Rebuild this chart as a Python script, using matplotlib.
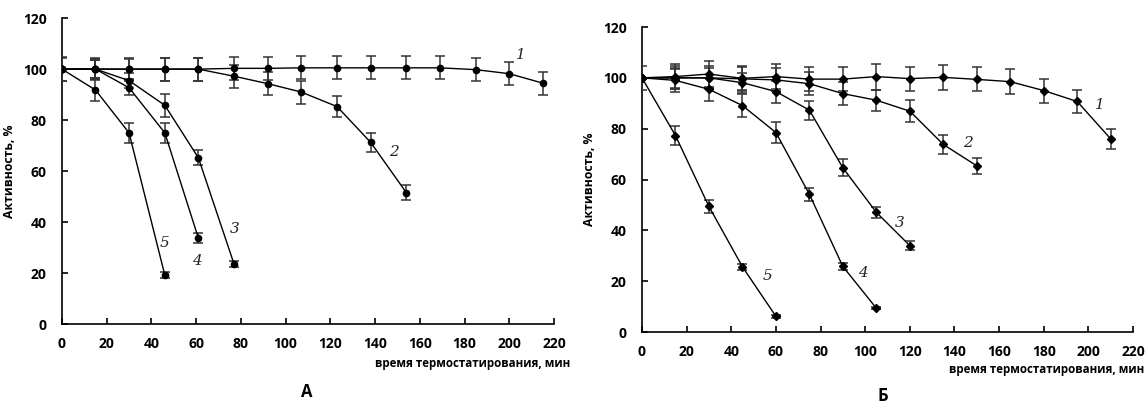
import matplotlib
matplotlib.use("Agg")
import matplotlib.pyplot as plt

# ---------- Panel A data ----------
a1_x = [0, 15, 30, 46, 61, 77, 92, 107, 123, 138, 154, 169, 185, 200, 215]
a1_y = [100, 100, 100, 100, 100, 100.3, 100.3, 100.5, 100.5, 100.5, 100.5, 100.5, 99.8, 98.2, 94.5]
a1_e = [4.6, 4.3, 4.5, 4.5, 4.5, 4.5, 4.5, 4.5, 4.5, 4.5, 4.5, 4.5, 4.5, 4.5, 4.5]

a2_x = [0, 15, 30, 46, 61, 77, 92, 107, 123, 138, 154]
a2_y = [100, 100, 100, 100, 100, 97.2, 94.3, 91, 85.3, 71.3, 51.5]
a2_e = [4.5, 4.0, 4.0, 4.5, 4.5, 4.5, 4.5, 4.5, 4.0, 3.7, 2.9]

a3_x = [0, 15, 30, 46, 61, 77]
a3_y = [100, 100, 95.5, 85.8, 65.2, 23.4]
a3_e = [0, 3.5, 3.0, 4.5, 3.0, 1.2]

a4_x = [0, 15, 30, 46, 61]
a4_y = [100, 100, 92.7, 75, 33.7]
a4_e = [0, 3.5, 3.0, 3.8, 2.0]

a5_x = [0, 15, 30, 46]
a5_y = [100, 91.8, 75, 19.2]
a5_e = [0, 4.2, 4.0, 1.3]

# ---------- Panel B data ----------
b1_x = [0, 15, 30, 45, 60, 75, 90, 105, 120, 135, 150, 165, 180, 195, 210]
b1_y = [100, 100.5, 101.5, 99.8, 100.5, 99.5, 99.5, 100.5, 99.7, 100.2, 99.4, 98.5, 95, 90.7, 76]
b1_e = [4.7, 5.0, 5.0, 4.8, 5.0, 4.8, 4.8, 5.1, 4.7, 5.0, 4.7, 4.9, 4.7, 4.6, 3.9]

b2_x = [0, 15, 30, 45, 60, 75, 90, 105, 120, 135, 150]
b2_y = [100, 100, 100, 99.6, 99.2, 97.7, 93.8, 91.2, 86.9, 73.8, 65.4]
b2_e = [0, 4.5, 4.5, 4.5, 4.5, 4.5, 4.5, 4.2, 4.2, 3.7, 3.2]

b3_x = [0, 15, 30, 45, 60, 75, 90, 105, 120]
b3_y = [100, 100, 100, 98.1, 94.6, 87.3, 64.6, 47.1, 34.0]
b3_e = [0, 4.0, 4.0, 4.0, 4.3, 3.7, 3.3, 2.2, 1.8]

b4_x = [0, 15, 30, 45, 60, 75, 90, 105]
b4_y = [100, 99, 95.5, 89.1, 78.5, 54.2, 25.8, 9.4]
b4_e = [0, 4.5, 4.5, 4.4, 4.0, 2.6, 1.2, 0.5]

b5_x = [0, 15, 30, 45, 60]
b5_y = [100, 77.3, 49.4, 25.7, 6.2]
b5_e = [0, 3.9, 2.6, 1.1, 0.5]

curve_names = ["1", "2", "3", "4", "5"]
a_label_pos = [(205, 105.5), (148.5, 67.5), (77.4, 37.3), (60.4, 24.7), (46, 31.8)]
b_label_pos = [(205, 89.4), (146, 74.4), (115.6, 42.9), (99, 23.2), (56.4, 22)]

xticks = list(range(0, 221, 20))
yticks = list(range(0, 121, 20))

ylabel = "Активность, %"
xlabel = "время термостатирования, мин"

plt.rcParams['font.family'] = ['Open Sans', 'DejaVu Sans']

fig = plt.figure(figsize=(11.47, 4.03), dpi=100)
axA = fig.add_axes([0.054, 0.196, 0.429, 0.759])
axB = fig.add_axes([0.5597, 0.176, 0.4281, 0.757])


def draw(ax, series, label_pos, marker):
    for (x, y, e) in series:
        ax.errorbar(x, y, yerr=e, color='black', ecolor='#333333', lw=1.0,
                    elinewidth=1.1, capsize=3.5, capthick=1.1,
                    marker=marker, ms=4.5, mfc='black', mec='black', zorder=3)
    for name, (tx, ty) in zip(curve_names, label_pos):
        ax.text(tx, ty, name, family='DejaVu Serif', style='italic',
                fontsize=11, color='#222222', ha='center', va='center')
    ax.set_xlim(0, 220)
    ax.set_ylim(0, 120)
    ax.set_xticks(xticks)
    ax.set_yticks(yticks)
    for s in ['top', 'right']:
        ax.spines[s].set_visible(False)
    for s in ['left', 'bottom']:
        ax.spines[s].set_linewidth(1.2)
    ax.tick_params(direction='in', length=4, width=1.2, labelsize=10)
    ax.tick_params(axis='x', pad=9)
    ax.tick_params(axis='y', pad=11)
    for lab in ax.get_xticklabels() + ax.get_yticklabels():
        lab.set_fontweight('bold')
    ax.set_ylabel(ylabel, fontsize=8.8, fontweight='bold', labelpad=5)


draw(axA, [(a1_x, a1_y, a1_e), (a2_x, a2_y, a2_e), (a3_x, a3_y, a3_e),
           (a4_x, a4_y, a4_e), (a5_x, a5_y, a5_e)], a_label_pos, 'o')
draw(axB, [(b1_x, b1_y, b1_e), (b2_x, b2_y, b2_e), (b3_x, b3_y, b3_e),
           (b4_x, b4_y, b4_e), (b5_x, b5_y, b5_e)], b_label_pos, 'D')

fig.text(570 / 1147, 1 - 363 / 403, xlabel, fontsize=8.3, fontweight='bold',
         ha='right', va='center')
fig.text(1144 / 1147, 1 - 370 / 403, xlabel, fontsize=8.3, fontweight='bold',
         ha='right', va='center')
fig.text(307 / 1147, 1 - 392 / 403, "А", fontsize=12, fontweight='bold',
         ha='center', va='center')
fig.text(883 / 1147, 1 - 396 / 403, "Б", fontsize=12, fontweight='bold',
         ha='center', va='center')

fig.savefig("out.png", dpi=100)
